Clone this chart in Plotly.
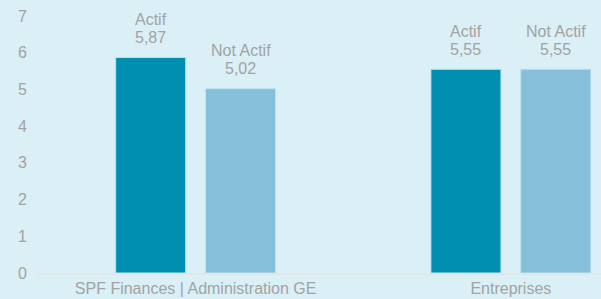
import plotly.graph_objects as go

categories = ["SPF Finances | Administration GE", "Entreprises"]
series_names = ["Actif", "Not Actif"]
actif = [5.87, 5.55]
not_actif = [5.02, 5.55]
y_ticks = [0, 1, 2, 3, 4, 5, 6, 7]

colors = ["#008FB0", "#86BFD9"]
bg = "#DAEFF6"
gray = "#A3A3A3"
font_family = "Liberation Sans, Arial, sans-serif"

fig = go.Figure()
for name, vals, col in zip(series_names, [actif, not_actif], colors):
    fig.add_trace(go.Bar(
        x=categories, y=vals, name=name,
        marker=dict(color=col, line=dict(color="#BFE3EF", width=1)),
    ))

# value labels above bars (name line + value line)
shifts = [-45, 45]
for name, vals, dx in zip(series_names, [actif, not_actif], shifts):
    for c, v in zip(categories, vals):
        fig.add_annotation(
            x=c, y=v, xshift=dx, yshift=20, yanchor="middle", showarrow=False,
            text=f"{v:.2f}".replace(".", ","),
            font=dict(family=font_family, size=16, color=gray),
        )
        fig.add_annotation(
            x=c, y=v, xshift=dx, yshift=38, yanchor="middle", showarrow=False,
            text=name,
            font=dict(family=font_family, size=16, color=gray),
        )

fig.update_layout(
    width=601, height=299,
    margin=dict(l=38, r=0, t=16, b=26),
    paper_bgcolor=bg, plot_bgcolor=bg,
    barmode="group", bargap=0.43, bargroupgap=0.22,
    showlegend=False,
    font=dict(family=font_family, size=16, color=gray),
    xaxis=dict(range=[-0.5, 1.286], showgrid=False, showline=True,
               linecolor="#E3E6E8", linewidth=2, ticks="",
               tickfont=dict(size=16, color=gray)),
    yaxis=dict(range=[0, 7], tickvals=y_ticks, showgrid=False, zeroline=False,
               showline=False, ticklabelstandoff=10,
               tickfont=dict(size=16, color=gray)),
)

fig.write_html("out.html", config={"displayModeBar": False},
               post_script="document.body.style.margin='0';document.body.style.overflow='hidden';")
